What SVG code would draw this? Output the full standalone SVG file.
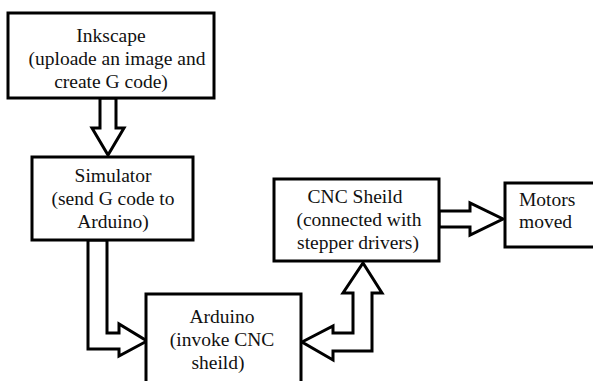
<svg xmlns="http://www.w3.org/2000/svg" width="593" height="381" viewBox="0 0 593 381">
<style>
.box{fill:#fff;stroke:#000;stroke-width:3}
.arr{fill:#fff;stroke:#000;stroke-width:3;stroke-linejoin:miter}
text{font-family:'Liberation Serif','Times New Roman','DejaVu Serif',serif;font-size:19.5px;fill:#111}
.c{text-anchor:middle}
</style>
<rect width="593" height="381" fill="#fff"/>
<g id="connectors">
<polygon class="arr" points="100,98 116,98 116,128 124,128 108,155 92,128 100,128"/>
<polygon class="arr" points="88,240 107,240 107,333 119,333 119,324 147,341 119,356 119,349 88,349"/>
<polygon class="arr" points="302,342 333,326 333,333 353,333 353,293 343,293 363,263 382,293 372,293 372,351 333,351 333,360"/>
<polygon class="arr" points="439,211 470,211 470,203 503,219 470,235 470,227 439,227"/>
</g>
<g id="inkscape">
<rect class="box" x="8" y="13" width="206" height="85"/>
<text class="c" x="111" y="42">Inkscape</text>
<text class="c" x="117" y="65">(uploade an image and</text>
<text class="c" x="111" y="88">create G code)</text>
</g>
<g id="simulator">
<rect class="box" x="32" y="157" width="161" height="83"/>
<text class="c" x="113" y="182">Simulator</text>
<text class="c" x="113" y="205">(send G code to</text>
<text class="c" x="113" y="228">Arduino)</text>
</g>
<g id="arduino">
<rect class="box" x="146" y="294" width="155" height="100"/>
<text class="c" x="222" y="323">Arduino</text>
<text class="c" x="222" y="346">(invoke CNC</text>
<text class="c" x="218" y="369">sheild)</text>
</g>
<g id="cnc">
<rect class="box" x="274" y="179" width="165" height="82"/>
<text class="c" x="355" y="203">CNC Sheild</text>
<text class="c" x="359" y="226">(connected with</text>
<text class="c" x="358" y="249">stepper drivers)</text>
</g>
<g id="motors">
<rect class="box" x="505" y="183" width="100" height="64"/>
<text x="519" y="206">Motors</text>
<text x="519" y="228">moved</text>
</g>
</svg>
